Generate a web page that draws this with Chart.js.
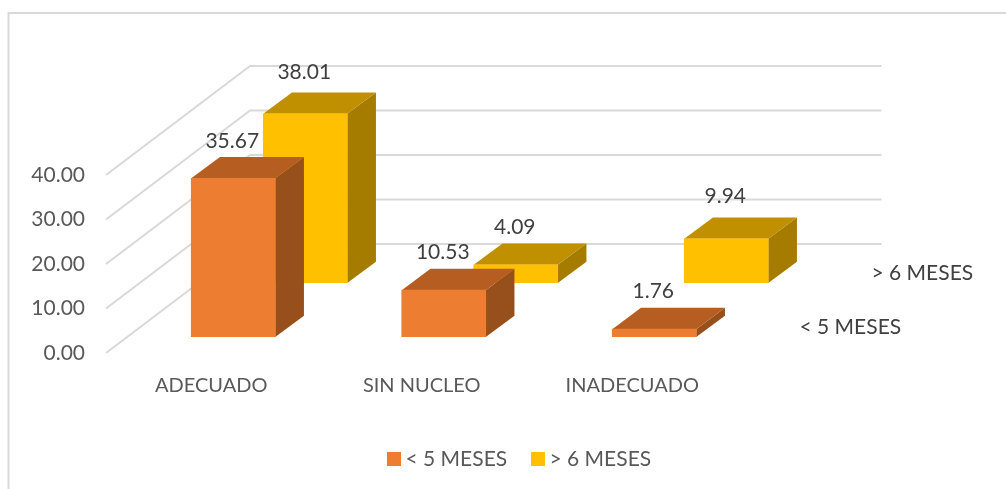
<!DOCTYPE html>
<html>
<head>
<meta charset="utf-8">
<style>
  html, body { margin: 0; padding: 0; background: #ffffff; }
  canvas { display: block; }
</style>
<script src="https://cdn.jsdelivr.net/npm/chart.js@4/dist/chart.umd.js"></script>
</head>
<body>
<canvas id="chart" width="1006" height="489"></canvas>
<script>
const categories = ['ADECUADO', 'SIN NUCLEO', 'INADECUADO'];
const under5Label = '< 5 MESES';
const over6Label = '> 6 MESES';
const under5Values = [35.67, 10.53, 1.76];
const over6Values = [38.01, 4.09, 9.94];
const valueTicks = [0, 10, 20, 30, 40];

const FONT = 'Lato, Carlito, sans-serif';
const FONT_SIZE = 21;
const GRID = '#d9d9d9';

// Oblique projection: each series sits in its own slice of the floor's depth.
const FLOOR_DEPTH = { x: 144, y: -109 };
const BAR_DEPTH = { x: 28.7, y: -21.3 };
const seriesStyle = [
  { dx: 22, dy: -16, front: '#ed7d31', top: '#b65e22', side: '#97501b', lift: [37.5, 37.5, 37.5],
    tag: { x: 799.5, y: 327 } },
  { dx: 94, dy: -70, front: '#ffc000', top: '#c09000', side: '#a57c00', lift: [42, 38, 43],
    tag: { x: 871.5, y: 273 } }
];

function polygon(ctx, pts, fill) {
  ctx.beginPath();
  pts.forEach((p, i) => (i ? ctx.lineTo(p[0], p[1]) : ctx.moveTo(p[0], p[1])));
  ctx.closePath();
  ctx.fillStyle = fill;
  ctx.fill();
}

const threeD = {
  id: 'threeD',
  beforeDraw(chart) {
    const ctx = chart.ctx;
    ctx.save();
    ctx.fillStyle = '#ffffff';
    ctx.fillRect(0, 0, chart.width, chart.height);
    // Outer frame of the chart object: only top and left are in view.
    ctx.strokeStyle = GRID;
    ctx.lineWidth = 2;
    ctx.beginPath();
    ctx.moveTo(8.5, chart.height);
    ctx.lineTo(8.5, 13);
    ctx.lineTo(chart.width, 13);
    ctx.stroke();
    ctx.restore();
  },
  beforeDatasetsDraw(chart) {
    // Gridlines run up the side wall, then across the back wall.
    const ctx = chart.ctx;
    const { left, right } = chart.chartArea;
    ctx.save();
    ctx.strokeStyle = GRID;
    ctx.lineWidth = 2;
    valueTicks.forEach(v => {
      const y = chart.scales.y.getPixelForValue(v);
      ctx.beginPath();
      ctx.moveTo(left, y);
      ctx.lineTo(left + FLOOR_DEPTH.x, y + FLOOR_DEPTH.y);
      ctx.lineTo(right + FLOOR_DEPTH.x, y + FLOOR_DEPTH.y);
      ctx.stroke();
    });
    ctx.restore();
  },
  beforeDatasetDraw(chart, args) {
    // The library's own bars become the front faces once shifted into their slice.
    const ctx = chart.ctx;
    const style = seriesStyle[args.index];
    ctx.save();
    ctx.translate(style.dx, style.dy);
    args.meta.data.forEach(bar => {
      const l = bar.x - bar.width / 2, r = bar.x + bar.width / 2;
      const t = bar.y, b = bar.base;
      const ox = BAR_DEPTH.x, oy = BAR_DEPTH.y;
      polygon(ctx, [[r, t], [r + ox, t + oy], [r + ox, b + oy], [r, b]], style.side);
      polygon(ctx, [[l, t], [r, t], [r + ox, t + oy], [l + ox, t + oy]], style.top);
    });
  },
  afterDatasetDraw(chart) {
    chart.ctx.restore();
  },
  afterDatasetsDraw(chart) {
    const ctx = chart.ctx;
    ctx.save();
    ctx.font = FONT_SIZE + 'px ' + FONT;
    ctx.textBaseline = 'middle';
    ctx.fillStyle = '#404040';

    // Value labels above each block.
    ctx.textAlign = 'center';
    chart.data.datasets.forEach((ds, i) => {
      const style = seriesStyle[i];
      chart.getDatasetMeta(i).data.forEach((bar, j) => {
        ctx.fillText(ds.data[j].toFixed(2), bar.x + style.dx - 1, bar.y + style.dy - style.lift[j]);
      });
    });

    // Series names along the depth axis.
    ctx.textAlign = 'left';
    chart.data.datasets.forEach((ds, i) => {
      const tag = seriesStyle[i].tag;
      ctx.fillText(ds.label, tag.x, tag.y);
    });

    // Legend row under the plot.
    const legendX = [387, 531];
    chart.data.datasets.forEach((ds, i) => {
      ctx.fillStyle = seriesStyle[i].front;
      ctx.fillRect(legendX[i], 452, 14, 14);
      ctx.fillStyle = '#595959';
      ctx.fillText(ds.label, legendX[i] + 18.5, 459);
    });
    ctx.restore();
  }
};

new Chart(document.getElementById('chart'), {
  type: 'bar',
  data: {
    labels: categories,
    datasets: [
      { label: under5Label, data: under5Values, backgroundColor: seriesStyle[0].front, borderWidth: 0 },
      { label: over6Label, data: over6Values, backgroundColor: seriesStyle[1].front, borderWidth: 0 }
    ]
  },
  options: {
    responsive: false,
    animation: false,
    devicePixelRatio: 1,
    grouped: false,
    barThickness: 84,
    layout: { padding: { top: 175, right: 268.5, bottom: 0, left: 0 } },
    plugins: { legend: { display: false }, tooltip: { enabled: false }, title: { display: false } },
    scales: {
      x: {
        grid: { display: false, drawTicks: false },
        border: { display: false },
        ticks: { color: '#595959', font: { family: FONT, size: 20 }, padding: 21, maxRotation: 0, autoSkip: false },
        afterFit(scale) { scale.height = 136; }
      },
      y: {
        min: 0,
        max: 40,
        grid: { display: false, drawTicks: false },
        border: { display: false },
        afterBuildTicks(scale) { scale.ticks = valueTicks.map(v => ({ value: v })); },
        ticks: {
          color: '#595959',
          font: { family: FONT, size: FONT_SIZE },
          padding: 21,
          callback: v => v.toFixed(2)
        },
        afterFit(scale) { scale.width = 106; }
      }
    }
  },
  plugins: [threeD]
});
</script>
</body>
</html>
